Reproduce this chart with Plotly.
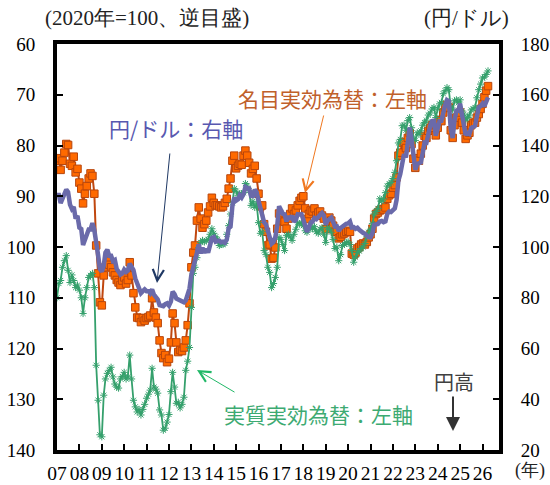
import pandas as pd
import plotly.graph_objects as go

# Monthly series, Jan 2007 - Apr 2026
months = pd.date_range("2007-01-01", periods=232, freq="MS").strftime("%Y-%m-%d").tolist()

# Yen per dollar (right axis)
usd_jpy = [
    120.5, 120.5, 117.3, 118.9, 120.8, 122.6, 121.6, 116.7, 115.0, 115.8, 111.2, 112.3,  # 2007
    107.6, 107.1, 100.8, 102.7, 104.4, 106.9, 106.9, 109.4, 106.6, 100.1, 96.9, 91.3,    # 2008
    90.3, 92.6, 97.8, 98.9, 96.6, 96.6, 94.5, 94.9, 91.3, 90.3, 89.1, 89.6,              # 2009
    91.1, 90.2, 90.7, 93.5, 91.8, 90.9, 87.6, 85.5, 84.4, 81.8, 82.6, 83.3,              # 2010
    82.6, 82.6, 81.8, 83.3, 81.2, 80.5, 79.4, 77.1, 76.8, 76.7, 77.5, 77.8,              # 2011
    76.9, 78.5, 82.4, 81.4, 79.7, 79.3, 78.9, 78.7, 78.2, 78.9, 80.8, 83.6,              # 2012
    89.1, 93.1, 94.8, 97.7, 101.1, 97.5, 99.7, 97.8, 99.2, 97.8, 100.1, 103.5,           # 2013
    103.9, 102.1, 102.3, 102.5, 101.8, 102.1, 101.7, 102.9, 107.4, 108.0, 116.2, 119.4,  # 2014
    118.3, 118.8, 120.4, 119.5, 120.8, 123.7, 123.3, 123.1, 120.1, 120.1, 122.6, 121.6,  # 2015
    118.2, 115.0, 113.0, 109.7, 108.9, 105.4, 103.9, 101.3, 102.0, 103.9, 108.5, 116.1,  # 2016
    114.9, 113.1, 112.9, 110.1, 112.2, 110.9, 112.4, 109.9, 110.8, 112.9, 112.8, 112.9,  # 2017
    110.9, 107.8, 106.0, 107.6, 109.7, 110.0, 111.4, 111.0, 111.9, 112.8, 113.4, 112.4,  # 2018
    108.9, 110.4, 111.2, 111.6, 110.0, 108.1, 108.2, 106.3, 107.5, 108.2, 108.9, 109.1,  # 2019
    109.3, 110.0, 107.7, 107.8, 107.2, 107.6, 106.8, 106.0, 105.6, 105.2, 104.4, 103.8,  # 2020
    103.8, 105.4, 108.7, 109.0, 109.1, 110.1, 110.3, 109.8, 110.1, 113.1, 114.0, 113.8,  # 2021
    114.8, 115.2, 118.5, 126.3, 128.8, 133.9, 136.6, 135.3, 143.2, 147.1, 142.3, 135.3,  # 2022
    130.4, 132.7, 133.0, 133.3, 137.0, 141.2, 141.1, 144.8, 147.8, 149.6, 149.7, 143.9,  # 2023
    146.6, 149.6, 149.7, 153.7, 155.8, 157.9, 157.5, 146.3, 143.0, 149.8, 153.7, 153.7,  # 2024
    156.5, 152.0, 149.1, 144.2, 144.9, 144.5, 146.9, 147.4, 147.8, 151.4, 155.0, 155.5,  # 2025
    156.5, 155.5, 157.5, 159.0,                                                          # 2026
]

# Nominal effective exchange rate, 2020 = 100 (left axis, reversed)
neer = [
    83.0, 82.5, 84.8, 83.0, 81.4, 79.7, 79.9, 83.6, 84.0, 82.2, 85.3, 84.6,
    87.3, 88.5, 91.4, 89.5, 88.0, 86.5, 85.5, 86.0, 89.5, 99.7, 105.2, 110.9,
    111.5, 105.6, 104.0, 102.7, 103.5, 104.0, 105.0, 105.6, 106.5, 107.0, 107.5, 106.6,
    106.0, 107.2, 106.5, 103.0, 105.6, 109.1, 111.9, 113.9, 114.0, 114.8, 114.0, 114.5,
    114.0, 113.8, 113.5, 110.1, 112.9, 113.9, 115.0, 118.4, 120.9, 121.9, 121.3, 122.7,
    122.0, 118.8, 113.1, 115.0, 118.8, 120.7, 120.3, 120.5, 119.8, 118.4, 115.4, 111.1,
    104.0, 101.1, 99.7, 94.8, 92.2, 94.4, 96.2, 95.5, 94.8, 93.2, 92.0, 90.3,
    91.3, 91.8, 91.8, 92.0, 92.2, 92.0, 91.3, 90.5, 88.5, 86.5, 83.0, 82.0,
    84.5, 84.0, 83.6, 83.8, 82.0, 81.0, 82.0, 83.4, 85.5, 84.6, 84.0, 86.5,
    89.5, 92.0, 91.8, 95.5, 97.0, 99.7, 99.5, 102.3, 102.1, 100.1, 96.4, 93.4,
    94.2, 94.8, 95.0, 96.4, 94.4, 93.5, 92.4, 93.5, 92.8, 91.8, 90.9, 90.3,
    90.0, 92.4, 94.5, 93.5, 92.8, 93.0, 92.4, 93.8, 93.2, 93.0, 93.8, 94.4,
    96.5, 94.5, 94.2, 94.8, 95.8, 97.0, 97.0, 98.3, 98.0, 97.5, 97.3, 97.0,
    96.8, 97.0, 101.3, 101.5, 101.1, 100.3, 100.0, 99.5, 99.3, 99.5, 99.0, 98.1,
    97.5, 96.4, 94.4, 93.5, 93.2, 92.8, 92.5, 92.6, 92.2, 90.5, 89.8, 89.5,
    88.3, 87.8, 86.3, 82.0, 81.4, 79.5, 79.3, 80.5, 78.5, 77.5, 79.7, 82.6,
    84.4, 82.5, 83.0, 81.6, 80.0, 78.1, 78.5, 77.1, 76.5, 76.0, 75.8, 78.0,
    76.5, 75.0, 75.2, 73.5, 72.6, 72.0, 72.5, 77.0, 78.5, 76.0, 74.5, 74.5,
    73.5, 75.5, 77.0, 78.7, 78.0, 77.5, 76.0, 75.5, 75.5, 74.5, 73.8, 72.8,
    71.8, 70.5, 69.2, 68.3,
]

# Real effective exchange rate, 2020 = 100 (left axis, reversed)
reer = [
    110.0, 107.2, 106.6, 104.0, 102.7, 101.7, 104.6, 107.0, 105.5, 106.6, 108.0, 107.5,
    108.5, 110.0, 113.1, 110.0, 108.0, 106.0, 105.6, 105.2, 108.0, 123.3, 130.2, 137.0,
    137.4, 129.2, 126.0, 124.9, 124.3, 123.7, 125.6, 127.0, 127.6, 127.8, 126.0, 125.5,
    124.7, 126.0, 125.6, 121.3, 126.0, 130.2, 131.5, 132.5, 132.0, 133.1, 132.0, 131.0,
    129.8, 129.0, 128.2, 123.9, 127.6, 128.0, 128.8, 132.1, 133.1, 136.1, 135.7, 134.5,
    133.0, 128.5, 124.7, 127.6, 130.8, 130.6, 131.7, 131.0, 129.6, 124.3, 122.5, 119.8,
    111.9, 105.2, 104.0, 102.1, 100.1, 99.1, 98.7, 99.0, 98.7, 98.5, 97.5, 96.4,
    97.3, 98.0, 98.5, 99.7, 99.5, 99.5, 99.3, 97.5, 95.8, 93.5, 91.3, 88.5,
    89.0, 89.9, 89.5, 89.5, 89.3, 87.5, 88.0, 88.9, 91.8, 91.0, 92.2, 91.5,
    95.2, 97.3, 97.0, 100.7, 101.5, 104.0, 105.0, 108.0, 107.2, 106.0, 104.0, 98.1,
    98.5, 99.5, 100.7, 97.7, 97.5, 98.0, 98.7, 97.5, 96.5, 95.2, 95.5, 95.2,
    95.8, 96.8, 97.1, 96.5, 96.0, 96.4, 96.0, 97.0, 97.3, 96.5, 96.2, 97.5,
    99.1, 96.2, 96.5, 97.1, 98.5, 100.3, 100.0, 102.7, 101.5, 99.7, 99.5, 99.1,
    99.0, 99.5, 100.7, 103.0, 102.0, 101.1, 100.8, 100.3, 100.0, 99.3, 98.0, 97.1,
    96.5, 95.4, 93.5, 93.0, 92.4, 90.5, 91.0, 90.5, 89.3, 88.0, 87.5, 87.3,
    86.5, 85.3, 83.0, 79.5, 78.8, 76.1, 76.0, 77.0, 75.1, 74.5, 76.5, 78.5,
    79.0, 77.5, 77.8, 77.1, 76.0, 75.5, 75.0, 74.0, 73.6, 72.8, 72.5, 74.5,
    72.8, 71.8, 71.5, 69.8, 69.2, 68.6, 69.0, 72.5, 73.0, 71.2, 71.0, 71.6,
    71.0, 73.2, 73.8, 75.0, 74.5, 74.0, 73.0, 72.8, 72.5, 70.6, 69.0, 67.9,
    66.7, 66.5, 66.0, 65.3,
]

W, H = 550, 485
ML, MR, MT, MB = 57, 51, 44, 35
PW, PH = W - ML - MR, H - MT - MB

def fx(x):
    return (x - ML) / PW

def fy(y):
    return (H - MB - y) / PH

SERIF = "Times New Roman, Liberation Serif, DejaVu Serif, serif"
JP = "Noto Sans CJK JP"

C_NEER_LINE = "#C0470F"
C_NEER_FILL = "#FF6A00"
C_REER = "#35A06C"
C_USD = "#6A6AAA"

fig = go.Figure()

fig.add_trace(go.Scatter(
    x=months, y=neer, mode="lines+markers", yaxis="y",
    line=dict(color=C_NEER_LINE, width=2),
    marker=dict(symbol="square", size=7.5, color=C_NEER_FILL,
                line=dict(color="#B8460C", width=1)),
))
fig.add_trace(go.Scatter(
    x=months, y=reer, mode="lines+markers", yaxis="y",
    line=dict(color=C_REER, width=1.8),
    marker=dict(symbol="asterisk-open", size=6, color=C_REER,
                line=dict(color=C_REER, width=1)),
))
fig.add_trace(go.Scatter(
    x=months, y=usd_jpy, mode="lines", yaxis="y2",
    line=dict(color=C_USD, width=4.5),
))

annotations = [
    dict(text="(2020年=100、逆目盛)", x=fx(43), y=fy(18), xanchor="left", yanchor="middle",
         font=dict(family=SERIF, size=21, color="#222222")),
    dict(text="(円/ドル)", x=fx(422), y=fy(18), xanchor="left", yanchor="middle",
         font=dict(family=SERIF, size=21, color="#222222")),
    dict(text="(年)", x=fx(513), y=fy(470), xanchor="left", yanchor="middle",
         font=dict(family=SERIF, size=18, color="#222222")),
    dict(text="名目実効為替：左軸", x=fx(236), y=fy(98), xanchor="left", yanchor="middle",
         font=dict(family=JP, size=21, color="#C0602A")),
    dict(text="円/ドル：右軸", x=fx(107), y=fy(128), xanchor="left", yanchor="middle",
         font=dict(family=JP, size=21, color="#5858B0")),
    dict(text="実質実効為替：左軸", x=fx(222), y=fy(414), xanchor="left", yanchor="middle",
         font=dict(family=JP, size=21, color="#3DAA72")),
    dict(text="円高", x=fx(454), y=fy(381), xanchor="center", yanchor="middle",
         font=dict(family=JP, size=20, color="#404040")),
]
for a in annotations:
    a.update(xref="paper", yref="paper", showarrow=False)

# pointer arrows: (tip_x, tip_y, tail_x, tail_y, colour, head, width, size)
pointers = [
    (305, 193, 324, 114, "#F07820", 5, 1.0, 2.2),
    (157, 283, 170, 152, "#1F3864", 5, 1.0, 2.2),
    (197, 370, 236, 393, "#22B868", 5, 1.0, 2.2),
    (453, 431, 453, 395, "#333333", 2, 2.0, 1.4),
]
for tx, ty, sx, sy, col, head, wid, size in pointers:
    annotations.append(dict(
        text="", x=fx(tx), y=fy(ty), xref="paper", yref="paper",
        ax=sx - tx, ay=sy - ty, axref="pixel", ayref="pixel",
        showarrow=True, arrowhead=head, arrowwidth=wid, arrowsize=size,
        arrowcolor=col, standoff=0, startstandoff=0,
    ))

axis_common = dict(
    showline=True, linecolor="black", linewidth=4, showgrid=False, zeroline=False,
    ticks="inside", ticklen=6, tickwidth=1.5, tickcolor="black",
)

fig.update_layout(
    width=W, height=H,
    margin=dict(l=ML, r=MR, t=MT, b=MB, pad=0, autoexpand=False),
    paper_bgcolor="white", plot_bgcolor="white",
    showlegend=False,
    font=dict(family=SERIF),
    xaxis=dict(
        type="date", range=["2007-01-01", "2026-09-27"],
        tick0="2007-01-01", dtick="M12", tickformat="%y", tickangle=0,
        mirror=True, tickfont=dict(family=SERIF, size=19.5, color="black"),
        ticklabelstandoff=3, **axis_common,
    ),
    yaxis=dict(
        range=[140, 60], tick0=60, dtick=10, mirror=True,
        tickfont=dict(family=SERIF, size=19, color="black"),
        ticklabelstandoff=14, **axis_common,
    ),
    yaxis2=dict(
        range=[20, 180], tick0=20, dtick=20, overlaying="y", side="right",
        tickfont=dict(family=SERIF, size=19, color="black"),
        ticklabelstandoff=14, **axis_common,
    ),
    annotations=annotations,
)

fig.write_html("out.html")
